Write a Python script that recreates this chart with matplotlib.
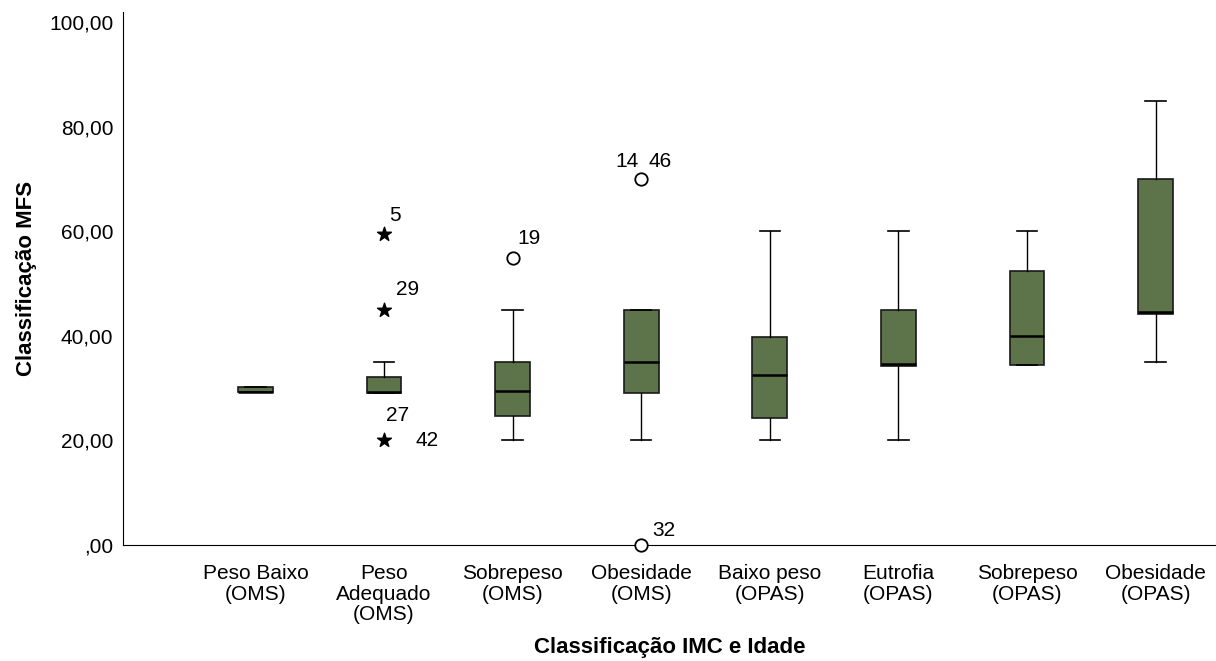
import matplotlib.pyplot as plt

plt.rcParams['font.family'] = ['Liberation Sans', 'DejaVu Sans']

# Dados
categorias = ['Peso Baixo\n(OMS)', 'Peso\nAdequado\n(OMS)', 'Sobrepeso\n(OMS)', 'Obesidade\n(OMS)',
              'Baixo peso\n(OPAS)', 'Eutrofia\n(OPAS)', 'Sobrepeso\n(OPAS)', 'Obesidade\n(OPAS)']
minimo = [29.2, 29.0, 20.0, 20.0, 20.0, 20.0, 34.5, 35.0]
q1 = [29.2, 29.0, 24.7, 29.1, 24.3, 34.2, 34.5, 44.2]
mediana = [29.3, 29.3, 29.5, 35.0, 32.5, 34.6, 40.0, 44.6]
q3 = [30.2, 32.2, 35.0, 45.0, 39.8, 45.0, 52.5, 70.0]
maximo = [30.2, 35.0, 45.0, 45.0, 60.0, 60.0, 60.0, 85.0]

# Outliers (círculos) e extremos (estrelas): (categoria, valor)
outliers_circ = [(3, 55.0), (4, 70.0), (4, 0.0)]
outliers_estr = [(2, 59.5), (2, 45.0), (2, 20.0)]
rotulos = [(2, 59.5, '5', 5, 19), (2, 45.0, '29', 12, 20), (2, 20.0, '27', 2, 25),
           (2, 20.0, '42', 31, 0), (3, 55.0, '19', 5, 19), (4, 70.0, '14', -26, 18),
           (4, 70.0, '46', 7, 18), (4, 0.0, '32', 11, 14)]

verde = '#5d7349'

fig = plt.figure(figsize=(12.16, 6.61), dpi=100)
ax = fig.add_axes([123/1216, 1 - 545/661, 1 - 123/1216, (545 - 12)/661])

stats = []
for i in range(len(categorias)):
    stats.append({'whislo': minimo[i], 'q1': q1[i], 'med': mediana[i], 'q3': q3[i],
                  'whishi': maximo[i], 'fliers': []})

pos = list(range(1, len(categorias) + 1))
ax.bxp(stats, positions=pos, widths=0.27, patch_artist=True, showfliers=False,
       boxprops=dict(facecolor=verde, edgecolor='#1a1a1a', linewidth=1.2),
       medianprops=dict(color='black', linewidth=1.8),
       whiskerprops=dict(color='black', linewidth=1),
       capprops=dict(color='black', linewidth=1.2), capwidths=0.16)

ax.scatter([c for c, v in outliers_circ], [v for c, v in outliers_circ], s=80,
           facecolors='white', edgecolors='black', linewidths=1.3, zorder=5, clip_on=False)
ax.scatter([c for c, v in outliers_estr], [v for c, v in outliers_estr], s=110,
           marker='*', color='black', zorder=5)

for c, v, t, dx, dy in rotulos:
    ax.annotate(t, (c, v), xytext=(dx, dy), textcoords='offset pixels', fontsize=15,
                va='center', ha='left')

ax.set_xlim(-0.03, 8.47)
ax.set_ylim(0, 102)
ax.set_yticks([0, 20, 40, 60, 80, 100])
ax.set_yticklabels([',00', '20,00', '40,00', '60,00', '80,00', '100,00'], fontsize=15)
ax.set_xticks(pos)
ax.set_xticklabels(categorias, fontsize=15, linespacing=1.1)
ax.tick_params(length=0)
ax.tick_params(axis='y', pad=7)
ax.tick_params(axis='x', pad=14)
ax.spines['top'].set_visible(False)
ax.spines['right'].set_visible(False)

ax.set_xlabel('Classificação IMC e Idade', fontsize=16, fontweight='bold', labelpad=9)
ax.set_ylabel('Classificação MFS', fontsize=16, fontweight='bold', labelpad=9)

fig.savefig('out.png', dpi=100)
